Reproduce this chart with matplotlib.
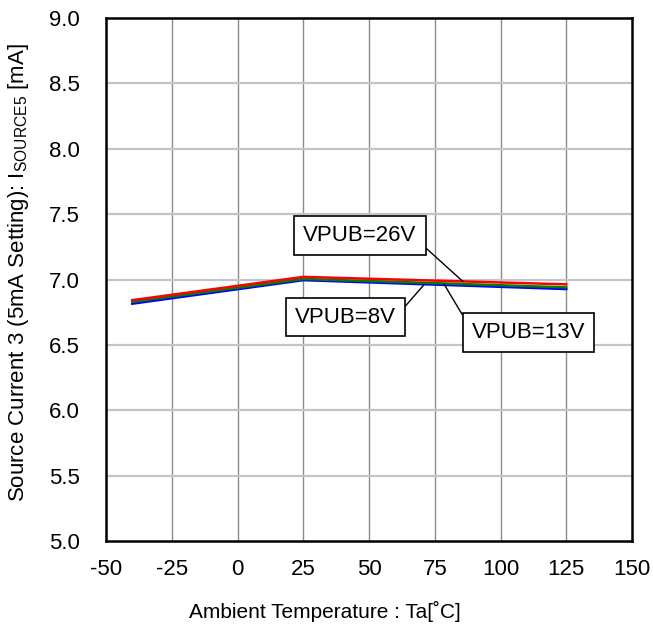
import numpy as np
import matplotlib.pyplot as plt

plt.rcParams['font.family'] = ['Liberation Sans', 'DejaVu Sans']
plt.rcParams['axes.unicode_minus'] = False

# data
temps = [-40, 25, 125]
vpub_8v = [6.815, 6.995, 6.927]
vpub_13v = [6.830, 7.004, 6.940]
vpub_26v = [6.842, 7.020, 6.963]

xticks = np.arange(-50, 151, 25)
yticks = np.arange(5.0, 9.01, 0.5)

fig = plt.figure(figsize=(6.53, 6.35), dpi=100)
ax = fig.add_axes([106 / 653, 1 - 541 / 635, 526 / 653, 523 / 635])

ax.plot(temps, vpub_8v, color='#0000ff', lw=1.8, zorder=3)
ax.plot(temps, vpub_13v, color='#008000', lw=1.8, zorder=4)
ax.plot(temps, vpub_26v, color='#ff0000', lw=1.8, zorder=5)

ax.set_xlim(-50, 150)
ax.set_ylim(5.0, 9.0)
ax.set_xticks(xticks)
ax.set_yticks(yticks)
ax.set_yticklabels(['%.1f' % v for v in yticks])
ax.tick_params(length=0, labelsize=16)
ax.tick_params(axis='x', pad=13)
ax.tick_params(axis='y', pad=19)

# grid: vertical darker, horizontal lighter
for x in xticks[1:-1]:
    ax.axvline(x, color='#8c8c8c', lw=1.0, zorder=1)
for y in yticks[1:-1]:
    ax.axhline(y, color='#c4c4c4', lw=1.6, zorder=1)

for s in ax.spines.values():
    s.set_linewidth(1.8)
    s.set_color('black')

ax.set_xlabel('Ambient Temperature : Ta[˚C]', fontsize=15)
ax.xaxis.set_label_coords(0.416, -0.115)
ax.set_ylabel('Source Current 3 (5mA Setting): I$\\mathregular{_{SOURCE5}}$ [mA]',
              fontsize=16)
ax.yaxis.set_label_coords(-0.143, 0.513)

box = dict(boxstyle='square,pad=0.4', fc='white', ec='black', lw=1.2)
line = dict(arrowstyle='-', color='black', lw=1.0, shrinkA=0, shrinkB=0)

ax.annotate('VPUB=26V', xy=(85.7, 6.985), xytext=(46.6, 7.336), fontsize=16,
            ha='center', va='center', bbox=box,
            arrowprops=dict(line, relpos=(1.0, 0.3)), zorder=6)
ax.annotate('VPUB=8V', xy=(70.9, 6.960), xytext=(41.0, 6.713), fontsize=16,
            ha='center', va='center', bbox=box,
            arrowprops=dict(line, relpos=(1.0, 0.5)), zorder=6)
ax.annotate('VPUB=13V', xy=(78.5, 6.966), xytext=(110.6, 6.595), fontsize=16,
            ha='center', va='center', bbox=box,
            arrowprops=dict(line, relpos=(0.0, 0.6)), zorder=6)

plt.savefig('out.png', dpi=100)
